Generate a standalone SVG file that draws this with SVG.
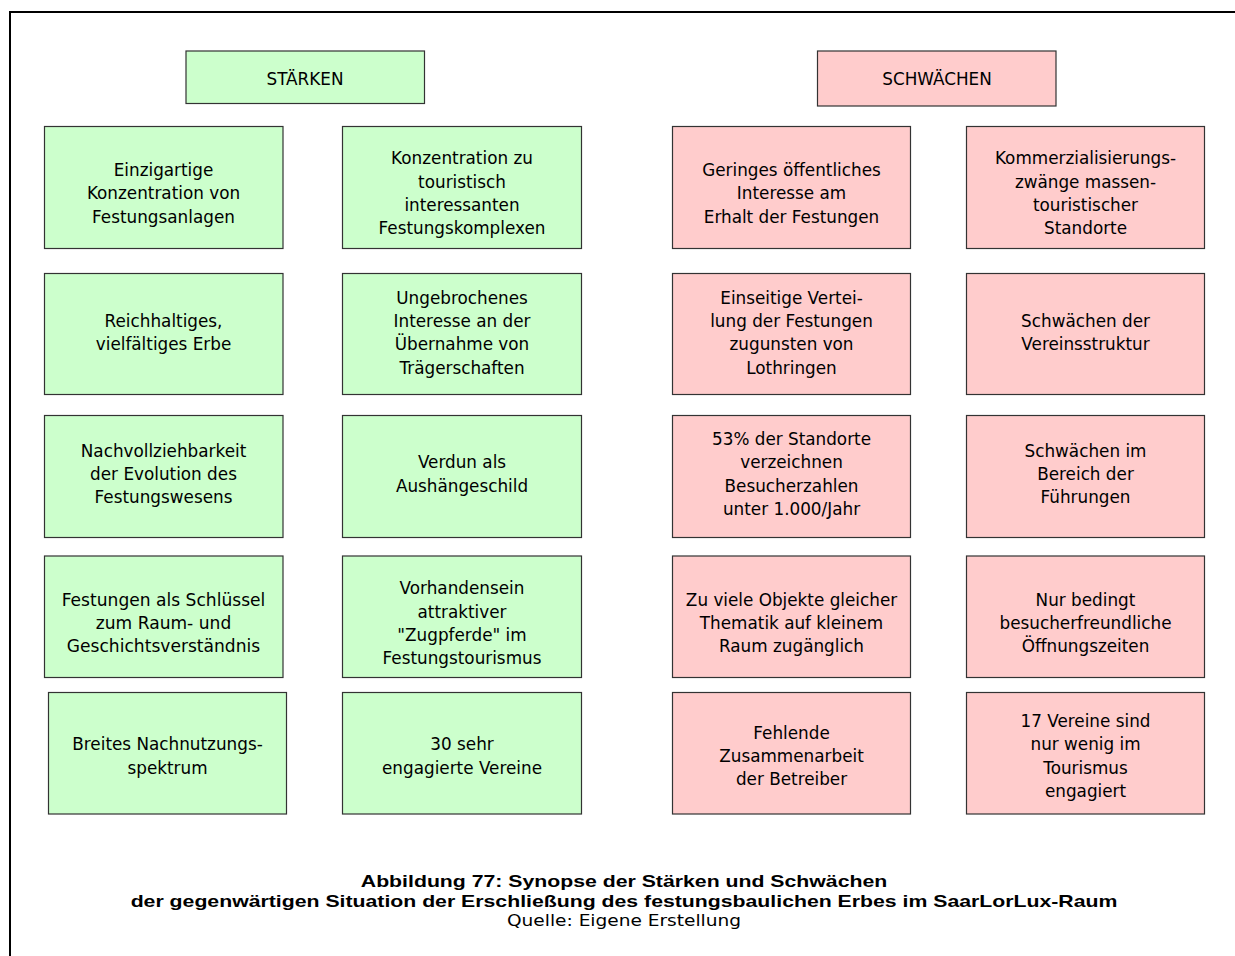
<svg xmlns="http://www.w3.org/2000/svg" width="1235" height="956" viewBox="0 0 1235 956">
<style>
.g{fill:#ccffcc;stroke:#333;stroke-width:1.2}
.p{fill:#ffcccc;stroke:#333;stroke-width:1.2}
.t text{font-family:"DejaVu Sans","Liberation Sans",sans-serif;font-size:18px;fill:#000;text-anchor:middle}
.cap{font-family:"Liberation Sans",Arial,sans-serif;font-size:17px;font-weight:bold;fill:#000;text-anchor:middle}
.src{font-family:"DejaVu Sans","Liberation Sans",sans-serif;font-size:16px;fill:#000;text-anchor:middle}
</style>
<rect width="1235" height="956" fill="#fff"/>
<path d="M10 956 V12 H1235" fill="none" stroke="#000" stroke-width="2"/>
<g id="connectors"/>

<g id="h-staerken"><rect class="g" x="186" y="51" width="238.5" height="52.5"/>
<g class="t" transform="translate(305 0) scale(0.935 1)"><text x="0" y="85">STÄRKEN</text></g></g>
<g id="h-schwaechen"><rect class="p" x="817.5" y="51" width="238.5" height="55"/>
<g class="t" transform="translate(937 0) scale(0.935 1)"><text x="0" y="85">SCHWÄCHEN</text></g></g>

<!-- Row 1 -->
<g id="s1"><rect class="g" x="44.5" y="126.5" width="238.5" height="122"/>
<g class="t" transform="translate(163.5 0) scale(0.935 1)"><text x="0" y="176.1">Einzigartige</text><text x="0" y="199.4">Konzentration von</text><text x="0" y="222.7">Festungsanlagen</text></g></g>
<g id="s2"><rect class="g" x="342.5" y="126.5" width="239" height="122"/>
<g class="t" transform="translate(462 0) scale(0.935 1)"><text x="0" y="164.45">Konzentration zu</text><text x="0" y="187.75">touristisch</text><text x="0" y="211.05">interessanten</text><text x="0" y="234.35">Festungskomplexen</text></g></g>
<g id="w1"><rect class="p" x="672.5" y="126.5" width="238" height="122"/>
<g class="t" transform="translate(791.5 0) scale(0.935 1)"><text x="0" y="176.1">Geringes öffentliches</text><text x="0" y="199.4">Interesse am</text><text x="0" y="222.7">Erhalt der Festungen</text></g></g>
<g id="w2"><rect class="p" x="966.5" y="126.5" width="238" height="122"/>
<g class="t" transform="translate(1085.5 0) scale(0.935 1)"><text x="0" y="164.45">Kommerzialisierungs-</text><text x="0" y="187.75">zwänge massen-</text><text x="0" y="211.05">touristischer</text><text x="0" y="234.35">Standorte</text></g></g>

<!-- Row 2 -->
<g id="s3"><rect class="g" x="44.5" y="273.5" width="238.5" height="121"/>
<g class="t" transform="translate(163.5 0) scale(0.935 1)"><text x="0" y="327.15">Reichhaltiges,</text><text x="0" y="350.45">vielfältiges Erbe</text></g></g>
<g id="s4"><rect class="g" x="342.5" y="273.5" width="239" height="121"/>
<g class="t" transform="translate(462 0) scale(0.935 1)"><text x="0" y="303.85">Ungebrochenes</text><text x="0" y="327.15">Interesse an der</text><text x="0" y="350.45">Übernahme von</text><text x="0" y="373.75">Trägerschaften</text></g></g>
<g id="w3"><rect class="p" x="672.5" y="273.5" width="238" height="121"/>
<g class="t" transform="translate(791.5 0) scale(0.935 1)"><text x="0" y="303.85">Einseitige Vertei-</text><text x="0" y="327.15">lung der Festungen</text><text x="0" y="350.45">zugunsten von</text><text x="0" y="373.75">Lothringen</text></g></g>
<g id="w4"><rect class="p" x="966.5" y="273.5" width="238" height="121"/>
<g class="t" transform="translate(1085.5 0) scale(0.935 1)"><text x="0" y="327.15">Schwächen der</text><text x="0" y="350.45">Vereinsstruktur</text></g></g>

<!-- Row 3 -->
<g id="s5"><rect class="g" x="44.5" y="415.5" width="238.5" height="122"/>
<g class="t" transform="translate(163.5 0) scale(0.935 1)"><text x="0" y="456.7">Nachvollziehbarkeit</text><text x="0" y="480">der Evolution des</text><text x="0" y="503.3">Festungswesens</text></g></g>
<g id="s6"><rect class="g" x="342.5" y="415.5" width="239" height="122"/>
<g class="t" transform="translate(462 0) scale(0.935 1)"><text x="0" y="468.35">Verdun als</text><text x="0" y="491.65">Aushängeschild</text></g></g>
<g id="w5"><rect class="p" x="672.5" y="415.5" width="238" height="122"/>
<g class="t" transform="translate(791.5 0) scale(0.935 1)"><text x="0" y="445.05">53% der Standorte</text><text x="0" y="468.35">verzeichnen</text><text x="0" y="491.65">Besucherzahlen</text><text x="0" y="514.95">unter 1.000/Jahr</text></g></g>
<g id="w6"><rect class="p" x="966.5" y="415.5" width="238" height="122"/>
<g class="t" transform="translate(1085.5 0) scale(0.935 1)"><text x="0" y="456.7">Schwächen im</text><text x="0" y="480">Bereich der</text><text x="0" y="503.3">Führungen</text></g></g>

<!-- Row 4 -->
<g id="s7"><rect class="g" x="44.5" y="556" width="238.5" height="121.5"/>
<g class="t" transform="translate(163.5 0) scale(0.95 1)"><text x="0" y="605.9">Festungen als Schlüssel</text><text x="0" y="629.2">zum Raum- und</text><text x="0" y="652.5">Geschichtsverständnis</text></g></g>
<g id="s8"><rect class="g" x="342.5" y="556" width="239" height="121.5"/>
<g class="t" transform="translate(462 0) scale(0.935 1)"><text x="0" y="594.25">Vorhandensein</text><text x="0" y="617.55">attraktiver</text><text x="0" y="640.85">"Zugpferde" im</text><text x="0" y="664.15">Festungstourismus</text></g></g>
<g id="w7"><rect class="p" x="672.5" y="556" width="238" height="121.5"/>
<g class="t" transform="translate(791.5 0) scale(0.935 1)"><text x="0" y="605.9">Zu viele Objekte gleicher</text><text x="0" y="629.2">Thematik auf kleinem</text><text x="0" y="652.5">Raum zugänglich</text></g></g>
<g id="w8"><rect class="p" x="966.5" y="556" width="238" height="121.5"/>
<g class="t" transform="translate(1085.5 0) scale(0.935 1)"><text x="0" y="605.9">Nur bedingt</text><text x="0" y="629.2">besucherfreundliche</text><text x="0" y="652.5">Öffnungszeiten</text></g></g>

<!-- Row 5 -->
<g id="s9"><rect class="g" x="48.5" y="692.5" width="238" height="121.5"/>
<g class="t" transform="translate(167.5 0) scale(0.935 1)"><text x="0" y="750.35">Breites Nachnutzungs-</text><text x="0" y="773.65">spektrum</text></g></g>
<g id="s10"><rect class="g" x="342.5" y="692.5" width="239" height="121.5"/>
<g class="t" transform="translate(462 0) scale(0.935 1)"><text x="0" y="750.35">30 sehr</text><text x="0" y="773.65">engagierte Vereine</text></g></g>
<g id="w9"><rect class="p" x="672.5" y="692.5" width="238" height="121.5"/>
<g class="t" transform="translate(791.5 0) scale(0.935 1)"><text x="0" y="738.7">Fehlende</text><text x="0" y="762">Zusammenarbeit</text><text x="0" y="785.3">der Betreiber</text></g></g>
<g id="w10"><rect class="p" x="966.5" y="692.5" width="238" height="121.5"/>
<g class="t" transform="translate(1085.5 0) scale(0.935 1)"><text x="0" y="727.05">17 Vereine sind</text><text x="0" y="750.35">nur wenig im</text><text x="0" y="773.65">Tourismus</text><text x="0" y="796.95">engagiert</text></g></g>

<g id="caption">
<g transform="translate(624 0) scale(1.25 1)"><text class="cap" x="0" y="887">Abbildung 77: Synopse der Stärken und Schwächen</text>
<text class="cap" x="0" y="907">der gegenwärtigen Situation der Erschließung des festungsbaulichen Erbes im SaarLorLux-Raum</text></g>
<g transform="translate(624 0) scale(1.16 1)"><text class="src" x="0" y="926">Quelle: Eigene Erstellung</text></g>
</g>
</svg>
